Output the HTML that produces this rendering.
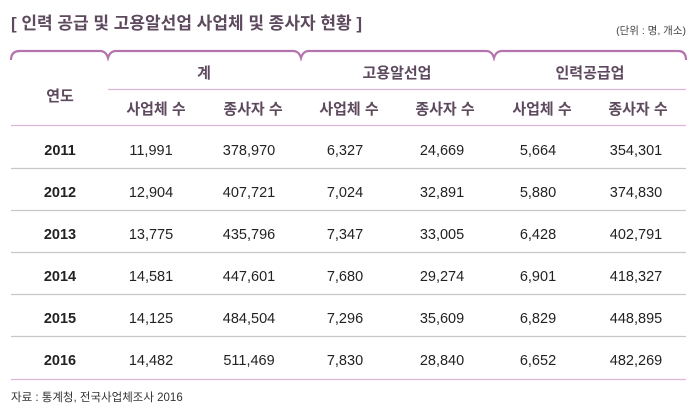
<!DOCTYPE html>
<html><head><meta charset="utf-8"><style>
body{margin:0;background:#fff;width:698px;height:411px;overflow:hidden}
svg{display:block}
text{font-family:"Liberation Sans","Noto Sans CJK KR",sans-serif}
</style></head><body>
<svg width="698" height="411" viewBox="0 0 698 411">
<text x="11" y="29" font-size="17" font-weight="bold" fill="#5e4a5e">[ 인력 공급 및 고용알선업 사업체 및 종사자 현황 ]</text>
<text x="686" y="34" font-size="10.5" fill="#444" text-anchor="end">(단위 : 명, 개소)</text>
<g fill="none" stroke="#b574ae" stroke-width="2.2">
<path d="M11 60 Q11 51 20 51 L100 51 Q106 51 108 58 Q110 51 116 51 L293 51 Q299 51 301 58 Q303 51 309 51 L486 51 Q492 51 494 58 Q496 51 502 51 L678 51 Q686 51 686 60"/>
</g>
<g stroke="#dcb6d6" stroke-width="1.3">
<line x1="108" y1="89.5" x2="686" y2="89.5"/>
<line x1="11" y1="125.5" x2="686" y2="125.5"/>
<line x1="11" y1="379.5" x2="686" y2="379.5"/>
</g>
<g stroke="#c8c8c8" stroke-width="1.3">
<line x1="11" y1="168.5" x2="686" y2="168.5"/>
<line x1="11" y1="210.5" x2="686" y2="210.5"/>
<line x1="11" y1="252.5" x2="686" y2="252.5"/>
<line x1="11" y1="294.5" x2="686" y2="294.5"/>
<line x1="11" y1="336.5" x2="686" y2="336.5"/>
</g>
<g font-size="15" font-weight="bold" fill="#5e4a5e" text-anchor="middle">
<text x="60" y="101">연도</text>
<text x="204" y="78">계</text>
<text x="397" y="78">고용알선업</text>
<text x="590" y="78">인력공급업</text>
<text x="156" y="114">사업체 수</text>
<text x="253" y="114">종사자 수</text>
<text x="349" y="114">사업체 수</text>
<text x="445" y="114">종사자 수</text>
<text x="542" y="114">사업체 수</text>
<text x="638" y="114">종사자 수</text>
</g>
<g font-size="14.5" fill="#222" text-anchor="middle">
<g font-weight="bold">
<text x="60" y="155">2011</text><text x="60" y="197">2012</text><text x="60" y="239">2013</text>
<text x="60" y="281">2014</text><text x="60" y="323">2015</text><text x="60" y="365">2016</text>
</g>
<text x="151" y="155">11,991</text><text x="249" y="155">378,970</text><text x="345" y="155">6,327</text><text x="442" y="155">24,669</text><text x="538" y="155">5,664</text><text x="636" y="155">354,301</text>
<text x="151" y="197">12,904</text><text x="249" y="197">407,721</text><text x="345" y="197">7,024</text><text x="442" y="197">32,891</text><text x="538" y="197">5,880</text><text x="636" y="197">374,830</text>
<text x="151" y="239">13,775</text><text x="249" y="239">435,796</text><text x="345" y="239">7,347</text><text x="442" y="239">33,005</text><text x="538" y="239">6,428</text><text x="636" y="239">402,791</text>
<text x="151" y="281">14,581</text><text x="249" y="281">447,601</text><text x="345" y="281">7,680</text><text x="442" y="281">29,274</text><text x="538" y="281">6,901</text><text x="636" y="281">418,327</text>
<text x="151" y="323">14,125</text><text x="249" y="323">484,504</text><text x="345" y="323">7,296</text><text x="442" y="323">35,609</text><text x="538" y="323">6,829</text><text x="636" y="323">448,895</text>
<text x="151" y="365">14,482</text><text x="249" y="365">511,469</text><text x="345" y="365">7,830</text><text x="442" y="365">28,840</text><text x="538" y="365">6,652</text><text x="636" y="365">482,269</text>
</g>
<text x="11" y="401" font-size="11.5" fill="#333">자료 : 통계청, 전국사업체조사 2016</text>
</svg>
</body></html>
